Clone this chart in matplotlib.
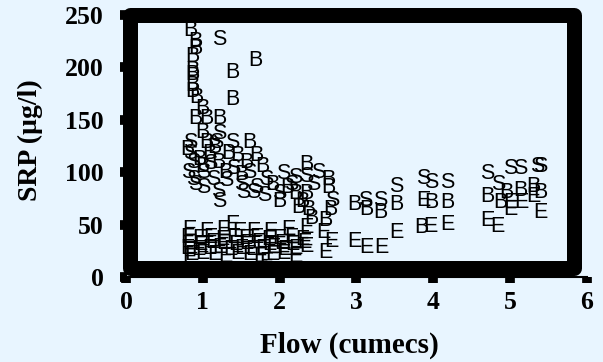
"""SRP vs flow scatter, points drawn as letters B / S / E."""

import matplotlib
matplotlib.use("Agg")
import matplotlib.pyplot as plt
from matplotlib.patches import Rectangle

# --- data (flow in cumecs, SRP in ug/l) ---
b_flow = [0.84, 0.90, 0.90, 0.86, 0.87, 0.86, 0.87, 0.87, 0.92, 1.00, 0.90, 1.05,
          1.22, 1.68, 1.38, 1.38, 1.00, 1.05, 1.61, 1.09, 1.33, 1.45, 1.70, 1.20,
          1.57, 1.00, 1.78, 1.30, 1.50, 2.35, 1.90, 2.10, 2.20, 2.63, 2.63, 2.35,
          2.37, 2.66, 2.42, 2.59, 2.30, 2.98, 3.13, 3.31, 3.52, 3.98, 4.19, 3.85,
          4.70, 4.96, 5.13, 5.30, 5.39, 4.87, 0.95, 1.15, 0.80, 2.00, 2.25]
b_srp = [235, 225, 218, 210, 197, 193, 183, 177, 171, 161, 151, 151,
         151, 207, 195, 169, 138, 128, 128, 118, 118, 116, 116, 109,
         109, 105, 105, 100, 98, 107, 88, 85, 80, 93, 85, 80,
         64, 64, 56, 54, 72, 69, 64, 62, 69, 71, 71, 47,
         77, 81, 83, 86, 81, 71, 112, 124, 122, 72, 66]

s_flow = [1.22, 1.22, 0.83, 1.18, 1.38, 0.83, 0.87, 0.81, 2.05, 0.87, 1.14, 1.83,
          1.22, 1.53, 1.66, 2.35, 2.44, 2.68, 3.11, 3.31, 3.52, 3.87, 3.98, 4.19,
          4.70, 4.85, 5.00, 5.13, 5.35, 5.39, 1.00, 1.30, 1.50, 1.70, 2.20, 1.00,
          0.90, 1.10, 1.40, 1.60, 2.00, 2.50, 1.20, 1.80, 2.15]
s_srp = [227, 137, 128, 128, 128, 118, 109, 100, 99, 93, 93, 93,
         72, 81, 81, 96, 88, 73, 73, 73, 86, 94, 90, 90,
         99, 88, 104, 104, 105, 105, 100, 92, 88, 85, 95, 85,
         88, 108, 104, 100, 80, 100, 82, 78, 88]

e_flow = [1.38, 0.83, 1.05, 1.27, 1.47, 1.66, 1.88, 2.11, 2.35, 2.57, 2.68, 2.35,
          2.59, 2.98, 3.13, 3.33, 3.52, 3.87, 3.96, 4.19, 5.00, 5.15, 5.30, 5.00,
          5.39, 4.70, 4.83, 0.83, 1.83,
          0.80, 0.95, 1.10, 1.25, 1.40, 1.55, 1.70, 1.85, 2.00, 2.15, 2.30,
          0.82, 0.97, 1.12, 1.27, 1.42, 1.57, 1.72, 1.87, 2.02, 2.17, 2.32,
          0.80, 0.94, 1.08, 1.22, 1.36, 1.50, 1.64, 1.78, 1.92, 2.06, 2.20,
          0.85, 1.00, 1.15, 1.30, 1.45, 1.60, 1.75, 1.90, 2.05, 2.20]
e_srp = [50, 45, 43, 45, 43, 43, 43, 45, 47, 42, 34, 29,
         23, 34, 28, 28, 42, 73, 48, 50, 71, 71, 77, 64,
         62, 54, 48, 19, 15,
         38, 37, 38, 36, 38, 37, 38, 36, 37, 38, 36,
         32, 31, 33, 32, 31, 32, 33, 31, 32, 31, 33,
         27, 26, 27, 28, 26, 27, 26, 27, 28, 26, 27,
         21, 22, 21, 20, 22, 21, 20, 21, 22, 20]

x_ticks = [0, 1, 2, 3, 4, 5, 6]
y_ticks = [0, 50, 100, 150, 200, 250]

BG = "#e8f5ff"
SERIF = "Liberation Serif"
MARK_FONT = ["Liberation Sans Narrow", "Liberation Sans"]

fig = plt.figure(figsize=(6.03, 3.62), dpi=100, facecolor=BG)
ax = fig.add_axes([0.209, 0.2348, 0.764, 0.7238])
ax.set_facecolor(BG)
ax.set_xlim(0, 6)
ax.set_ylim(0, 250)

for name, xs, ys in (("B", b_flow, b_srp), ("S", s_flow, s_srp), ("E", e_flow, e_srp)):
    for x, y in zip(xs, ys):
        ax.text(x, y, name, ha="center", va="center", fontsize=15.5,
                family=MARK_FONT, color="black", clip_on=False)

for side in ("top", "right"):
    ax.spines[side].set_visible(False)
for side in ("left", "bottom"):
    ax.spines[side].set_linewidth(1.5)

ax.set_xticks(x_ticks)
ax.set_yticks(y_ticks)
ax.tick_params(axis="both", direction="out", length=4, width=7, color="black")
ax.tick_params(axis="x", pad=6)
ax.tick_params(axis="y", pad=12)
for lab in ax.get_xticklabels() + ax.get_yticklabels():
    lab.set_family(SERIF)
    lab.set_fontweight("bold")
    lab.set_fontsize(18.5)

fig.text(0.05, 0.613, "SRP (µg/l)", rotation=90, ha="center", va="center",
         family=SERIF, fontweight="bold", fontsize=20)
fig.text(0.58, 0.047, "Flow (cumecs)", ha="center", va="center",
         family=SERIF, fontweight="bold", fontsize=21)

# thick plot-area border, drawn on top of the axes
frame = Rectangle((0.2148, 0.2597), 0.9527 - 0.2148, 0.9586 - 0.2597,
                  transform=fig.transFigure, fill=False, edgecolor="black",
                  linewidth=10.8, joinstyle="round")
fig.add_artist(frame)

fig.savefig("out.png", dpi=100, facecolor=BG)
